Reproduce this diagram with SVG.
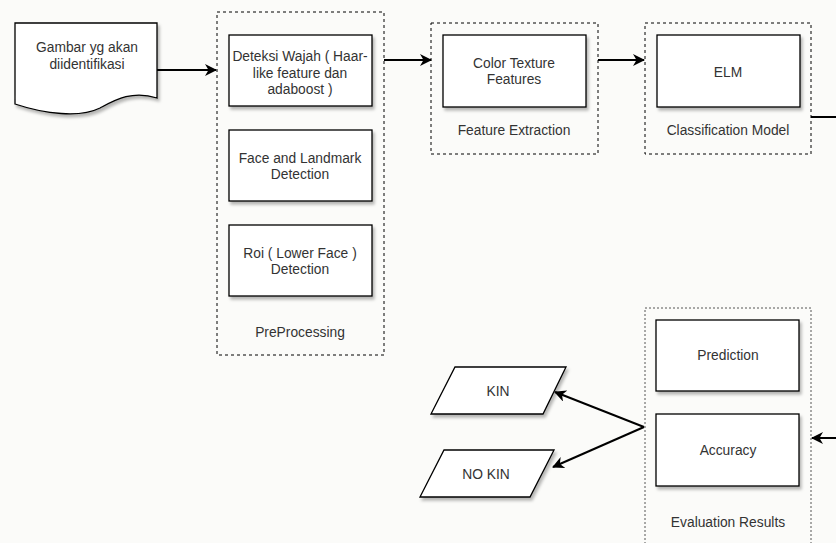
<svg xmlns="http://www.w3.org/2000/svg" width="836" height="543" viewBox="0 0 836 543">
<defs>
<filter id="sh" x="-10%" y="-10%" width="130%" height="140%">
<feDropShadow dx="2" dy="3" stdDeviation="1.5" flood-color="#000" flood-opacity="0.28"/>
</filter>
<marker id="ah" viewBox="0 0 12 12" refX="11" refY="6" markerWidth="12" markerHeight="12" markerUnits="userSpaceOnUse" orient="auto">
<path d="M0,0 L12,6 L0,12 L3.5,6 Z" fill="#000"/>
</marker>
<style>
text{font-family:"Liberation Sans",Arial,Helvetica,sans-serif;font-size:13.8px;fill:#333;text-anchor:middle}
.box{fill:#fff;stroke:#000;stroke-width:1.3;filter:url(#sh)}
.grp{fill:none;stroke:#000;stroke-width:1;stroke-dasharray:3 3}
.dot{fill:none;stroke:#555;stroke-width:1;stroke-dasharray:2 2}
.con{fill:none;stroke:#000;stroke-width:2;marker-end:url(#ah)}
</style>
</defs>
<rect x="0" y="0" width="836" height="543" fill="#fbfbf9"/>

<g id="doc">
<path class="box" d="M15,23 H157 V98 C132,90 115,100 100,108 C80,118 45,114 15,104 Z"/>
<text x="87" y="52">Gambar yg akan</text>
<text x="87" y="69">diidentifikasi</text>
</g>

<g id="preprocessing">
<rect class="grp" x="217" y="12" width="167" height="343"/>
<text x="300" y="337">PreProcessing</text>
</g>
<g id="deteksi">
<rect class="box" x="229" y="35" width="143" height="71"/>
<text x="300" y="61">Deteksi Wajah ( Haar-</text>
<text x="300" y="78">like feature dan</text>
<text x="300" y="94">adaboost )</text>
</g>
<g id="landmark">
<rect class="box" x="229" y="130" width="143" height="71"/>
<text x="300" y="163">Face and Landmark</text>
<text x="300" y="179">Detection</text>
</g>
<g id="roi">
<rect class="box" x="229" y="225" width="143" height="71"/>
<text x="300" y="258">Roi ( Lower Face )</text>
<text x="300" y="274">Detection</text>
</g>

<g id="feature-extraction">
<rect class="grp" x="431" y="23" width="167" height="131"/>
<text x="514" y="135">Feature Extraction</text>
</g>
<g id="color-texture">
<rect class="box" x="443" y="35" width="143" height="72"/>
<text x="514" y="68">Color Texture</text>
<text x="514" y="84">Features</text>
</g>

<g id="classification-model">
<rect class="grp" x="645" y="23" width="166" height="131"/>
<text x="728" y="135">Classification Model</text>
</g>
<g id="elm">
<rect class="box" x="657" y="35" width="143" height="72"/>
<text x="728" y="77">ELM</text>
</g>

<g id="evaluation-results">
<rect class="dot" x="645" y="308" width="166" height="250"/>
<text x="728" y="527">Evaluation Results</text>
</g>
<g id="prediction">
<rect class="box" x="656" y="320" width="143" height="71"/>
<text x="728" y="360">Prediction</text>
</g>
<g id="accuracy">
<rect class="box" x="656" y="414" width="143" height="72"/>
<text x="728" y="455">Accuracy</text>
</g>

<g id="kin">
<path class="box" d="M455,367 H566 L543,414 H431 Z"/>
<text x="498" y="396">KIN</text>
</g>
<g id="nokin">
<path class="box" d="M444,450 H554 L530,497 H420 Z"/>
<text x="486" y="479">NO KIN</text>
</g>

<g id="connectors">
<path class="con" d="M157,70 H216"/>
<path class="con" d="M384,60 H431"/>
<path class="con" d="M598,60 H644"/>
<path d="M811,117 H836" fill="none" stroke="#000" stroke-width="2"/>
<path class="con" d="M836,438 H812"/>
<path class="con" d="M644,427 L555,392"/>
<path class="con" d="M644,427 L553,467"/>
</g>
</svg>
